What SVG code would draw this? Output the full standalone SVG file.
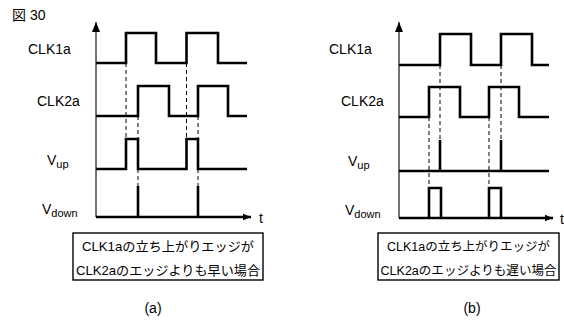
<svg xmlns="http://www.w3.org/2000/svg" width="564" height="320" viewBox="0 0 564 320">
<style>
text{font-family:"Liberation Sans","Noto Sans CJK JP",sans-serif;fill:#000}
.lbl{font-size:14px}
.sub{font-size:11px}
.box{font-size:13px;text-anchor:middle}
.boxs{font-size:12.5px;text-anchor:middle}
.sig{fill:none;stroke:#000;stroke-width:2.6;stroke-linejoin:miter}
.axis{fill:none;stroke:#000;stroke-width:1.1}
.taxis{fill:none;stroke:#000;stroke-width:2.6}
.dash{fill:none;stroke:#000;stroke-width:1;stroke-dasharray:4,3}
.frame{fill:#fff;stroke:#000;stroke-width:1.4}
</style>
<defs>
<marker id="ah" viewBox="0 0 10 10" refX="10" refY="5" markerWidth="10" markerHeight="10" markerUnits="userSpaceOnUse" orient="auto">
<path d="M0,1 L10,5 L0,9 Z" fill="#000"/>
</marker>
<marker id="ah2" viewBox="0 0 10 10" refX="10" refY="5" markerWidth="14" markerHeight="8" markerUnits="userSpaceOnUse" orient="auto">
<path d="M0,1 L10,5 L0,9 Z" fill="#000"/>
</marker>
</defs>
<text class="lbl" x="12" y="20">図 30</text>

<!-- Panel (a) -->
<g id="axes-a">
<line class="axis" x1="96" y1="217" x2="96" y2="22" marker-end="url(#ah)"/>
<line class="taxis" x1="96" y1="217" x2="251" y2="217" marker-end="url(#ah2)"/>
<text class="lbl" x="259" y="223">t</text>
</g>
<g id="clk1a-a">
<text class="lbl" x="28" y="54">CLK1a</text>
<path class="sig" d="M96,63 H126 V33 H156 V63 H186.5 V33 H218 V63 H247"/>
</g>
<g id="clk2a-a">
<text class="lbl" x="37" y="106">CLK2a</text>
<path class="sig" d="M96,116 H138 V86 H169 V116 H198 V86 H228 V116 H247"/>
</g>
<g id="vup-a">
<text class="lbl" x="47" y="165">V<tspan class="sub" dy="3">up</tspan></text>
<path class="sig" d="M96,169 H126 V139 H138 V169 H186.5 V139 H198 V169 H247"/>
</g>
<g id="vdown-a">
<text class="lbl" x="42" y="214">V<tspan class="sub" dy="3">down</tspan></text>
<path class="sig" d="M138,217 V186 M198,217 V186"/>
</g>
<g id="connectors-a">
<line class="dash" x1="126" y1="63" x2="126" y2="139"/>
<line class="dash" x1="138" y1="116" x2="138" y2="139"/>
<line class="dash" x1="138" y1="169" x2="138" y2="186"/>
<line class="dash" x1="186.5" y1="63" x2="186.5" y2="139"/>
<line class="dash" x1="198" y1="116" x2="198" y2="139"/>
<line class="dash" x1="198" y1="169" x2="198" y2="186"/>
</g>
<g id="note-a">
<rect class="frame" x="73" y="233" width="190" height="47"/>
<text class="box" x="168" y="251" textLength="172" lengthAdjust="spacingAndGlyphs">CLK1aの立ち上がりエッジが</text>
<text class="box" x="168" y="275" textLength="184" lengthAdjust="spacingAndGlyphs">CLK2aのエッジよりも早い場合</text>
</g>
<text class="lbl" x="153" y="313" text-anchor="middle">(a)</text>

<!-- Panel (b) -->
<g id="axes-b">
<line class="axis" x1="399" y1="218" x2="399" y2="22" marker-end="url(#ah)"/>
<line class="taxis" x1="399" y1="218" x2="553" y2="218" marker-end="url(#ah2)"/>
<text class="lbl" x="560" y="224">t</text>
</g>
<g id="clk1a-b">
<text class="lbl" x="329" y="54">CLK1a</text>
<path class="sig" d="M399,65 H440 V34 H471 V65 H501 V34 H532 V65 H549"/>
</g>
<g id="clk2a-b">
<text class="lbl" x="341" y="106">CLK2a</text>
<path class="sig" d="M399,117 H429 V87 H460 V117 H489 V87 H519 V117 H549"/>
</g>
<g id="vup-b">
<text class="lbl" x="348" y="166">V<tspan class="sub" dy="3">up</tspan></text>
<path class="sig" d="M399,171 H549 M440,171 V140 M501,171 V140"/>
</g>
<g id="vdown-b">
<text class="lbl" x="345" y="215">V<tspan class="sub" dy="3">down</tspan></text>
<path class="sig" d="M429,218 V188 H441 V218 M489,218 V188 H501 V218"/>
</g>
<g id="connectors-b">
<line class="dash" x1="440" y1="65" x2="440" y2="140"/>
<line class="dash" x1="429" y1="117" x2="429" y2="188"/>
<line class="dash" x1="489" y1="117" x2="489" y2="188"/>
<line class="dash" x1="501" y1="65" x2="501" y2="140"/>
</g>
<g id="note-b">
<rect class="frame" x="378" y="233" width="181" height="47"/>
<text class="boxs" x="468.5" y="251" textLength="163" lengthAdjust="spacingAndGlyphs">CLK1aの立ち上がりエッジが</text>
<text class="boxs" x="468.5" y="275" textLength="176" lengthAdjust="spacingAndGlyphs">CLK2aのエッジよりも遅い場合</text>
</g>
<text class="lbl" x="472" y="313" text-anchor="middle">(b)</text>
</svg>
